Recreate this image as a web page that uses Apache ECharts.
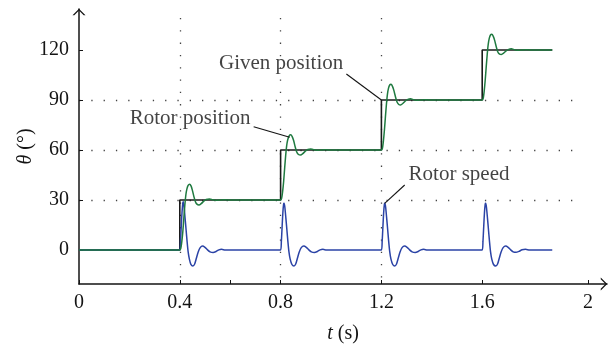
<!DOCTYPE html>
<html><head><meta charset="utf-8">
<script src="https://cdn.jsdelivr.net/npm/echarts@6/dist/echarts.min.js"></script>
<style>html,body{margin:0;padding:0;background:#fff}#c{width:615px;height:346px}</style>
</head><body><div id="c"></div>
<script>
const xTickValues = [0, 0.4, 0.8, 1.2, 1.6];
const yTickValues = [0, 30, 60, 90, 120];
const extraXTicks = [0.6, 2.02];
const extraXLabel = [2.02];

const givenPosition = [[0,0],[0.4,0],[0.4,30],[0.8,30],[0.8,60],[1.2,60],[1.2,90],[1.6,90],[1.6,120],[1.878,120]];

const rotorPosition = [
  [0,0],[0.4,0],[0.404,1],[0.408,5],[0.412,11],[0.416,19],[0.42,27],[0.424,33],[0.428,36.5],[0.433,38.8],[0.439,39.5],[0.445,38.3],[0.45,35.8],[0.456,32],[0.462,29],[0.468,27.5],[0.476,27],[0.485,27.8],[0.495,29.3],[0.505,30.3],[0.518,30.6],[0.53,30.2],[0.545,29.8],[0.56,30],[0.575,30.2],[0.59,30],
  [0.8,30],[0.804,31],[0.808,35],[0.812,41],[0.816,49],[0.82,56.5],[0.824,62.5],[0.828,66],[0.834,68.5],[0.84,69.1],[0.846,68],[0.852,65.5],[0.858,61.8],[0.864,58.8],[0.871,57.3],[0.879,57],[0.888,57.8],[0.898,59.3],[0.908,60.3],[0.92,60.6],[0.932,60.2],[0.946,59.8],[0.96,60],[0.975,60.2],[0.99,60],
  [1.2,60],[1.204,61],[1.208,65.5],[1.212,72],[1.216,80],[1.22,87.5],[1.224,93.5],[1.228,97],[1.233,99],[1.238,99.4],[1.244,98.2],[1.25,95.5],[1.256,91.8],[1.262,88.8],[1.269,87.3],[1.276,87],[1.285,87.9],[1.295,89.4],[1.305,90.4],[1.316,90.7],[1.328,90.2],[1.342,89.8],[1.357,90],[1.372,90.2],[1.39,90],
  [1.6,90],[1.604,91],[1.608,95.5],[1.612,102],[1.616,110],[1.62,117.5],[1.624,123.5],[1.628,127],[1.633,129],[1.638,129.4],[1.644,128.2],[1.65,125.5],[1.656,121.8],[1.662,118.8],[1.669,117.5],[1.676,117.3],[1.685,118.1],[1.695,119.5],[1.705,120.4],[1.716,120.7],[1.728,120.2],[1.742,119.8],[1.757,120],[1.772,120.2],[1.79,120],[1.878,120]
];

const rotorSpeed = [
  [0,0],[0.4,0],[0.403,6],[0.406,15],[0.409,23],[0.412,28.3],[0.414,29],[0.417,26],[0.421,19],[0.425,12],[0.429,5],[0.433,-1],[0.438,-5.5],[0.444,-8.6],[0.452,-9.6],[0.459,-8.4],[0.466,-4.8],[0.473,-1.2],[0.481,1.4],[0.49,2.4],[0.5,1.6],[0.51,0.1],[0.52,-1.1],[0.532,-1.5],[0.544,-0.9],[0.555,0.1],[0.566,0.4],[0.58,0],
  [0.8,0],[0.803,5],[0.806,14],[0.809,22.5],[0.812,27.5],[0.814,28],[0.817,25.5],[0.821,19],[0.825,12],[0.829,5],[0.833,-1],[0.838,-5.5],[0.845,-8.7],[0.853,-9.6],[0.86,-8.4],[0.867,-4.8],[0.874,-1.2],[0.882,1.4],[0.892,2.4],[0.902,1.6],[0.912,0.1],[0.922,-1.1],[0.934,-1.5],[0.946,-0.9],[0.957,0.1],[0.968,0.4],[0.982,0],
  [1.2,0],[1.203,5],[1.206,14],[1.209,22.5],[1.212,27.5],[1.214,28],[1.217,25.5],[1.221,19],[1.225,12],[1.229,5],[1.233,-1],[1.238,-5.5],[1.245,-8.7],[1.253,-9.6],[1.26,-8.4],[1.267,-4.8],[1.274,-1.2],[1.282,1.4],[1.292,2.4],[1.302,1.6],[1.312,0.1],[1.322,-1.1],[1.334,-1.5],[1.346,-0.9],[1.357,0.1],[1.368,0.4],[1.382,0],
  [1.6,0],[1.603,5],[1.606,14],[1.609,22.5],[1.612,27.5],[1.614,28],[1.617,25.5],[1.621,19],[1.625,12],[1.629,5],[1.633,-1],[1.638,-5.5],[1.645,-8.7],[1.654,-9.6],[1.661,-8.4],[1.668,-4.8],[1.675,-1.2],[1.683,1.4],[1.693,2.4],[1.703,1.6],[1.713,0.1],[1.723,-1.1],[1.734,-1.4],[1.746,-0.8],[1.758,0.1],[1.772,0.4],[1.788,0],[1.878,0]
];

const annotationText = ['Given position', 'Rotor position', 'Rotor speed'];
const annotationLabelAt = [[0.802, 111.7], [0.441, 79], [1.508, 45.3]];
const annotationPointer = [
  [[1.061, 105.6], [1.2, 90]],
  [[0.693, 74], [0.836, 67.6]],
  [[1.2925, 39], [1.213, 28]]
];

const FONT = 'Liberation Serif';
const INK = '#141414';
const chevron = 'path://M0,10 L10,0 L20,10 L17.2,10 L10,2.8 L2.8,10 Z';
const gridDots = { type: [1.3, 11], color: '#444', width: 1.3 };

const chart = echarts.init(document.getElementById('c'), null, { renderer: 'canvas' });
chart.setOption({
  animation: false,
  backgroundColor: '#fff',
  grid: [
    { left: 79, right: 32, top: 18, bottom: 62, containLabel: false, outerBoundsMode: 'none' },
    { left: 79, right: 8, top: 9, bottom: 62, containLabel: false, outerBoundsMode: 'none' }
  ],
  xAxis: [
    {
      gridIndex: 0, type: 'value', min: 0, max: 2,
      axisLine: { show: false, onZero: false },
      axisTick: { show: true, inside: true, length: 4, customValues: xTickValues, lineStyle: { color: INK, width: 1 } },
      axisLabel: { customValues: xTickValues, margin: 9, fontFamily: FONT, fontSize: 20, color: INK },
      splitLine: { show: true, showMinLine: false, showMaxLine: false, lineStyle: gridDots }
    },
    {
      gridIndex: 1, type: 'value', min: 0, max: 2.0952,
      axisLine: { show: true, onZero: false, symbol: ['none', chevron], symbolSize: [13, 6.5], symbolOffset: [0, -3], lineStyle: { color: INK, width: 1.5 } },
      axisTick: { show: true, inside: true, length: 4, customValues: extraXTicks, lineStyle: { color: INK, width: 1 } },
      axisLabel: { customValues: extraXLabel, formatter: function () { return '2'; }, margin: 9, fontFamily: FONT, fontSize: 20, color: INK },
      splitLine: { show: false },
      name: '{i|t} (s)', nameLocation: 'middle', nameGap: 40,
      nameTextStyle: { fontFamily: FONT, fontSize: 20, color: INK, rich: { i: { fontFamily: FONT, fontSize: 20, fontStyle: 'italic', color: INK } } }
    }
  ],
  yAxis: [
    {
      gridIndex: 0, type: 'value', min: -20.4, max: 139.2,
      axisLine: { show: false, onZero: false },
      axisTick: { show: true, inside: true, length: 4, customValues: yTickValues, lineStyle: { color: INK, width: 1 } },
      axisLabel: { customValues: yTickValues, margin: 10, fontFamily: FONT, fontSize: 20, color: INK },
      splitLine: { show: true, showMinLine: false, showMaxLine: false, lineStyle: gridDots }
    },
    {
      gridIndex: 1, type: 'value', min: -20.4, max: 144.6,
      axisLine: { show: true, onZero: false, symbol: ['none', chevron], symbolSize: [13, 6.5], symbolOffset: [0, -3], lineStyle: { color: INK, width: 1.5 } },
      axisTick: { show: false }, axisLabel: { show: false }, splitLine: { show: false },
      name: '{i|θ} (°)', nameLocation: 'middle', nameGap: 43, nameRotate: 90,
      nameTextStyle: { fontFamily: FONT, fontSize: 20, color: INK, rich: { i: { fontFamily: FONT, fontSize: 20, fontStyle: 'italic', color: INK } } }
    }
  ],
  series: [
    { type: 'line', name: 'Given position', xAxisIndex: 0, yAxisIndex: 0, data: givenPosition, symbol: 'none',
      lineStyle: { color: '#1a1a1a', width: 1.6 }, z: 2 },
    { type: 'line', name: 'Rotor speed', xAxisIndex: 0, yAxisIndex: 0, data: rotorSpeed, symbol: 'none', smooth: 0.2,
      lineStyle: { color: '#2b43a6', width: 1.5 }, z: 3 },
    { type: 'line', name: 'Rotor position', xAxisIndex: 0, yAxisIndex: 0, data: rotorPosition, symbol: 'none', smooth: 0.2,
      lineStyle: { color: '#1f7a40', width: 1.5 }, z: 4 },
    { type: 'lines', coordinateSystem: 'cartesian2d', xAxisIndex: 0, yAxisIndex: 0,
      data: annotationPointer.map(function (c) { return { coords: c }; }),
      lineStyle: { color: INK, width: 1.1, opacity: 1, curveness: 0 }, z: 5 },
    { type: 'scatter', xAxisIndex: 0, yAxisIndex: 0, symbolSize: 1, itemStyle: { color: 'rgba(0,0,0,0)' },
      data: annotationLabelAt.map(function (p, i) { return { value: p, name: annotationText[i] }; }),
      label: { show: true, position: 'inside', formatter: '{b}', fontFamily: FONT, fontSize: 21, color: INK },
      z: 6 }
  ]
});
</script>
</body></html>
